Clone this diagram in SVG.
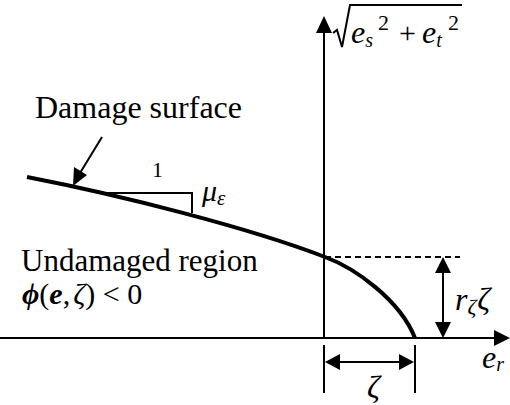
<svg xmlns="http://www.w3.org/2000/svg" width="510" height="405" viewBox="0 0 510 405">
<style>
.t{font-family:'Liberation Serif','Times New Roman',serif;fill:#000}
.i{font-style:italic}
.ln{stroke:#000;stroke-width:2;fill:none}
.ah{fill:#000;stroke:none}
</style>
<rect width="510" height="405" fill="#fff"/>
<g id="connectors">
  <line class="ln" x1="0" y1="338" x2="496" y2="338"/>
  <line class="ln" x1="324" y1="338" x2="324" y2="31"/>
  <line class="ln" x1="325" y1="257" x2="460" y2="257" stroke-dasharray="6,4"/>
  <line class="ln" x1="443" y1="271" x2="443" y2="324"/>
  <line class="ln" x1="324" y1="345" x2="324" y2="393"/>
  <line class="ln" x1="415" y1="345" x2="415" y2="393"/>
  <line class="ln" x1="338" y1="362" x2="401" y2="362"/>
  <line class="ln" x1="102" y1="137" x2="80" y2="173"/>
  <polyline class="ln" points="100,193 192,193 192,213"/>
  <polygon class="ah" points="510,338 494,330 494,346"/>
  <polygon class="ah" points="324,16 316,33 332,33"/>
  <polygon class="ah" points="443,257 435,273 451,273"/>
  <polygon class="ah" points="443,338 435,322 451,322"/>
  <polygon class="ah" points="325,362 340,354 340,370"/>
  <polygon class="ah" points="414,362 399,354 399,370"/>
  <polygon class="ah" points="73,186 74,167 87,175"/>
</g>
<g id="damage-surface">
  <path d="M27,177 C120,195 250,228 325,257 C355,268 400,300 415,338" fill="none" stroke="#000" stroke-width="4"/>
</g>
<g id="labels">
  <text class="t" x="35" y="118" font-size="32">Damage surface</text>
  <text class="t" x="152" y="177" font-size="22">1</text>
  <text class="t i" x="202" y="201" font-size="30">μ<tspan font-size="21" dy="4">ε</tspan></text>
  <text class="t" x="21" y="271" font-size="31">Undamaged region</text>
  <text class="t" x="22" y="304" font-size="30"><tspan class="i" font-weight="bold">ϕ</tspan>(<tspan class="i" font-weight="bold">e</tspan>,<tspan class="i" dx="3">ζ</tspan>) &lt; 0</text>
  <polyline class="ln" points="333,33 337,30 342,47 350,5 462,5" stroke-width="1.5"/>
  <text class="t i" x="351" y="43" font-size="32">e<tspan font-size="20" dy="4">s</tspan></text>
  <text class="t" x="378" y="30" font-size="22">2</text>
  <text class="t" x="399" y="43" font-size="30">+</text>
  <text class="t i" x="422" y="43" font-size="32">e<tspan font-size="20" dy="4">t</tspan></text>
  <text class="t" x="448" y="30" font-size="22">2</text>
  <text class="t i" x="455" y="310" font-size="32">r<tspan font-size="22" dy="4">ζ</tspan><tspan font-size="32" dy="-4" dx="1">ζ</tspan></text>
  <text class="t i" x="482" y="368" font-size="32">e<tspan font-size="20" dy="3">r</tspan></text>
  <text class="t i" x="367" y="398" font-size="32">ζ</text>
</g>
</svg>
